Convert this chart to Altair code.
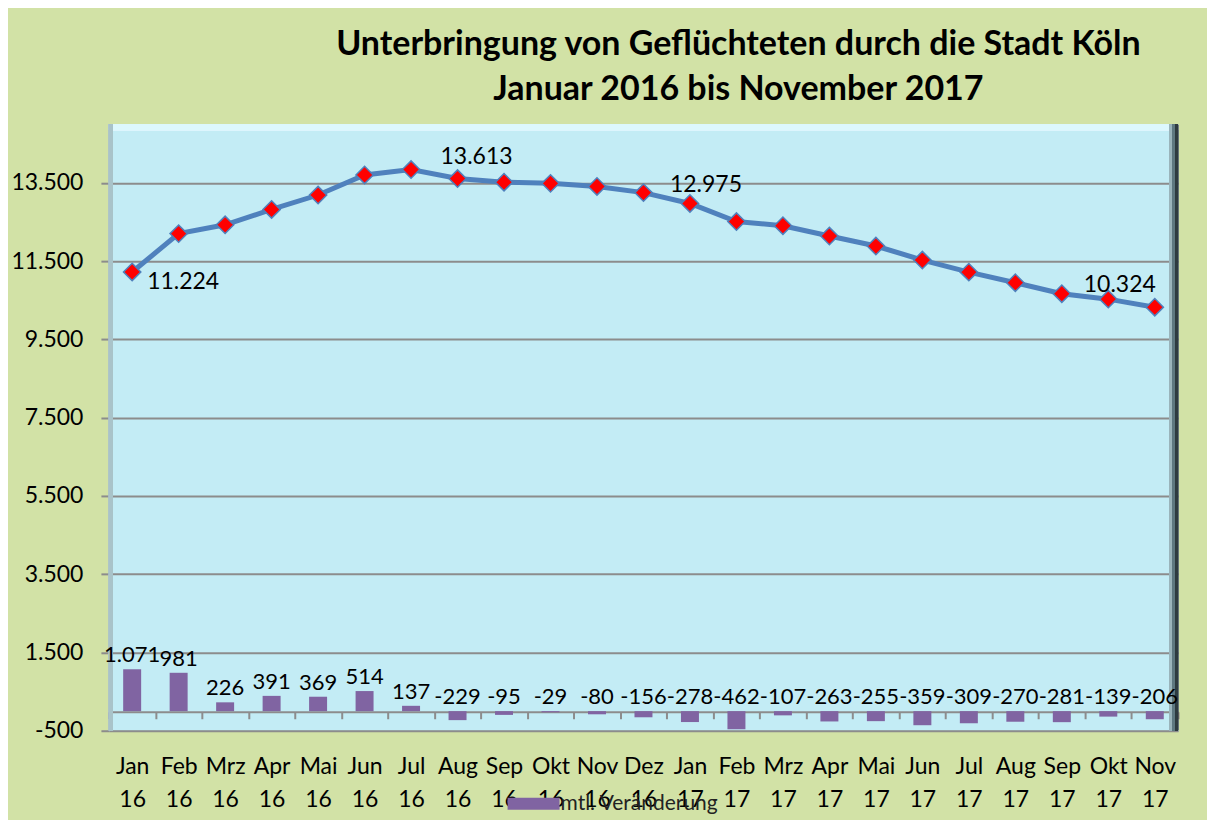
import altair as alt
import pandas as pd

months = ["Jan", "Feb", "Mrz", "Apr", "Mai", "Jun", "Jul", "Aug", "Sep", "Okt", "Nov", "Dez",
          "Jan", "Feb", "Mrz", "Apr", "Mai", "Jun", "Jul", "Aug", "Sep", "Okt", "Nov"]
years = ["16", "16", "16", "16", "16", "16", "16", "16", "16", "16", "16", "16",
         "17", "17", "17", "17", "17", "17", "17", "17", "17", "17", "17"]
total = [11224, 12205, 12431, 12822, 13191, 13705, 13842, 13613, 13518, 13489, 13409, 13253,
         12975, 12513, 12406, 12143, 11888, 11529, 11220, 10950, 10669, 10530, 10324]
change = [1071, 981, 226, 391, 369, 514, 137, -229, -95, -29, -80, -156,
          -278, -462, -107, -263, -255, -359, -309, -270, -281, -139, -206]
y_ticks = [-500, 1500, 3500, 5500, 7500, 9500, 11500, 13500]
series_name = "mtl. Veränderung"
title_lines = ["Unterbringung von Geflüchteten durch die Stadt Köln",
               "Januar 2016 bis November 2017"]

cats = [f"{m} {y}" for m, y in zip(months, years)]
df = pd.DataFrame({"cat": cats, "total": total, "change": change, "series": series_name})

W, H = 1070, 607
FONT = "Lato"
GRID = "#8C8C8C"
fmt = "replace(replace(format({v}, ','), ',', '.'), '\u2212', '-')"

x_enc = alt.X("cat:N", sort=cats, title=None,
              scale=alt.Scale(paddingInner=0, paddingOuter=0),
              axis=alt.Axis(offset=-19, labelExpr="split(datum.label, ' ')",
                            labelFontSize=23, labelFont=FONT, labelColor="black",
                            labelLineHeight=33, labelPadding=37, labelAngle=0,
                            tickBand="extent", tickColor=GRID, tickSize=7, tickWidth=2,
                            domainColor=GRID, domainWidth=2, grid=False))
y_scale = alt.Scale(domain=[-500, 15000], nice=False, zero=False)
y_axis = alt.Axis(values=y_ticks, labelExpr=fmt.format(v="datum.value"),
                  labelFontSize=23, labelFont=FONT, labelColor="black",
                  grid=True, gridColor=GRID, gridWidth=2,
                  tickColor=GRID, tickSize=8, tickWidth=2, domain=False,
                  labelPadding=18)

base = alt.Chart(df)

bars = base.mark_bar(size=18).encode(
    x=x_enc,
    y=alt.Y("change:Q", scale=y_scale, axis=y_axis, title=None),
    color=alt.Color("series:N", scale=alt.Scale(range=["#8064A2"]),
                    legend=alt.Legend(orient="none", legendX=399, legendY=654, title=None,
                                      symbolType="M-1,-0.23L1,-0.23L1,0.23L-1,0.23Z",
                                      symbolSize=2704, symbolStrokeWidth=0,
                                      labelFontSize=21, labelFont=FONT,
                                      labelColor="#222222", labelOffset=1)),
)

bar_labels = base.transform_calculate(
    ly="max(datum.change, 0)", txt=fmt.format(v="datum.change")
).mark_text(fontSize=22, font=FONT, color="black", baseline="middle", dy=-14).encode(
    x=alt.X("cat:N", sort=cats), y=alt.Y("ly:Q", scale=y_scale), text="txt:N"
)

line = base.mark_line(color="#4F81BD", strokeWidth=5).encode(
    x=alt.X("cat:N", sort=cats), y=alt.Y("total:Q", scale=y_scale)
)
points = base.mark_point(shape="diamond", filled=True, fill="#FF0000", stroke="#4F81BD",
                         strokeWidth=1.5, size=300, opacity=1).encode(
    x=alt.X("cat:N", sort=cats), y=alt.Y("total:Q", scale=y_scale)
)


def point_label(cat, **kw):
    return base.transform_filter(alt.datum.cat == cat).transform_calculate(
        txt=fmt.format(v="datum.total")
    ).mark_text(fontSize=23, font=FONT, color="black", baseline="middle", **kw).encode(
        x=alt.X("cat:N", sort=cats), y=alt.Y("total:Q", scale=y_scale), text="txt:N"
    )


labels_line = (point_label("Jan 16", align="left", dx=15, dy=10)
               + point_label("Aug 16", align="center", dx=19, dy=-22)
               + point_label("Jan 17", align="center", dx=16, dy=-18)
               + point_label("Nov 17", align="center", dx=-35, dy=-22))

# bevel edges of the plot area
top_light = alt.Chart(df).mark_rule(color="#DDF8FD", strokeWidth=6).encode(
    x=alt.value(0), x2=alt.value(W), y=alt.value(3))
right_1 = alt.Chart(df).mark_rule(color="#9AB4BB", strokeWidth=3).encode(
    x=alt.value(W - 7.5), y=alt.value(0), y2=alt.value(H))
right_2 = alt.Chart(df).mark_rule(color="#5E7880", strokeWidth=3).encode(
    x=alt.value(W - 4.5), y=alt.value(0), y2=alt.value(H))
right_3 = alt.Chart(df).mark_rule(color="#2E3B40", strokeWidth=3).encode(
    x=alt.value(W - 1.5), y=alt.value(0), y2=alt.value(H))
left_edge = alt.Chart(df).mark_rule(color="#A9C3C9", strokeWidth=4).encode(
    x=alt.value(2), y=alt.value(0), y2=alt.value(H))

chart = alt.layer(top_light, left_edge, right_1, right_2, right_3,
                  bars, line, points, bar_labels, labels_line).properties(
    width=W, height=H,
    title=alt.Title(title_lines, fontSize=34, font=FONT, fontWeight="bold",
                    color="black", lineHeight=45, anchor="middle", dx=95, offset=15),
    padding={"left": 2, "top": 20, "right": 26, "bottom": 6},
    background="#D2E2A6",
).configure_view(fill="#C3ECF5", stroke="#9DB6BD", strokeWidth=1)

chart.save("out.html", embed_options={"renderer": "svg", "actions": False})
